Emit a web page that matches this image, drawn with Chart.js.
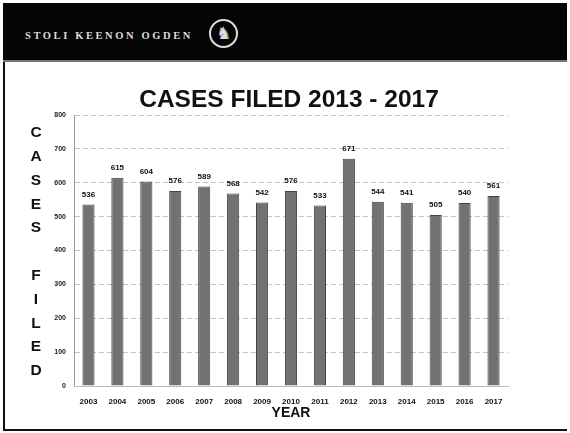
<!DOCTYPE html>
<html>
<head>
<meta charset="utf-8">
<script src="https://cdn.jsdelivr.net/npm/chart.js@4/dist/chart.umd.min.js"></script>
<style>
  html, body { margin: 0; padding: 0; background: #fff; }
  #page { position: relative; width: 570px; height: 433px; overflow: hidden; }
  #frame { position: absolute; left: 3px; top: 3px; width: 562px; height: 426px; border-left: 2px solid #111; border-bottom: 2px solid #111; }
  #header { position: absolute; left: 3px; top: 3px; width: 564px; height: 57px; background: #050505; border-bottom: 2px solid #777; }
  #brand { position: absolute; left: 22px; top: 27px; color: #ddd; font-family: "Liberation Serif", serif; font-size: 10.5px; letter-spacing: 2.6px; font-weight: bold; }
  #logo { position: absolute; left: 206px; top: 16px; width: 25px; height: 25px; border: 2px solid #ddd; border-radius: 50%; color: #ddd; font-family: "DejaVu Sans", sans-serif; font-size: 17px; line-height: 25px; text-align: center; }
  canvas { position: absolute; left: 0; top: 0; }
</style>
</head>
<body>
<div id="page">
  <div id="frame"></div>
  <div id="header"><span id="brand">STOLI KEENON OGDEN</span><span id="logo">♞</span></div>
  <canvas id="chart" width="570" height="433"></canvas>
</div>
<script>
const years = ["2003", "2004", "2005", "2006", "2007", "2008", "2009", "2010", "2011", "2012", "2013", "2014", "2015", "2016", "2017"];
const casesFiled = [536, 615, 604, 576, 589, 568, 542, 576, 533, 671, 544, 541, 505, 540, 561];
const yTitleLetters = ["C", "A", "S", "E", "S", "", "F", "I", "L", "E", "D"];
const chartTitle = "CASES FILED 2013 - 2017";

// title, value labels above bars, stacked vertical axis title
const extras = {
  id: "extras",
  afterDatasetsDraw(chart) {
    const ctx = chart.ctx;
    const meta = chart.getDatasetMeta(0);
    ctx.save();
    ctx.fillStyle = "#111";
    ctx.textAlign = "center";
    ctx.font = "bold 24.5px Arial, 'Liberation Sans', sans-serif";
    ctx.textBaseline = "middle";
    ctx.fillText(chartTitle, 289, 100);
    ctx.font = "bold 8px Arial, 'Liberation Sans', sans-serif";
    ctx.textBaseline = "bottom";
    meta.data.forEach((bar, i) => {
      ctx.fillText(casesFiled[i], bar.x, bar.y - 6);
    });
    ctx.font = "bold 15.5px Arial, 'Liberation Sans', sans-serif";
    ctx.textBaseline = "middle";
    yTitleLetters.forEach((l, i) => {
      ctx.fillText(l, 36, 133 + i * 23.8);
    });
    ctx.restore();
  },
};

const ctx = document.getElementById("chart").getContext("2d");
new Chart(ctx, {
  type: "bar",
  data: {
    labels: years,
    datasets: [
      {
        data: casesFiled,
        backgroundColor: "#727272",
        borderColor: "#444",
        borderWidth: 1,
        barPercentage: 0.42,
        categoryPercentage: 1,
      },
    ],
  },
  options: {
    responsive: false,
    animation: false,
    layout: { padding: { top: 115, left: 0, right: 62, bottom: 11 } },
    plugins: {
      legend: { display: false },
      tooltip: { enabled: false },
    },
    scales: {
      y: {
        min: 0,
        max: 800,
        ticks: {
          stepSize: 100,
          color: "#222",
          font: { family: "Arial, 'Liberation Sans', sans-serif", size: 7, weight: "bold" },
          padding: 8,
        },
        grid: { color: "#c4c4c4", drawTicks: false },
        border: { display: true, color: "#999", dash: [5, 3] },
        afterFit(scale) { scale.width = 74; },
      },
      x: {
        ticks: {
          color: "#111",
          font: { family: "Arial, 'Liberation Sans', sans-serif", size: 8, weight: "bold" },
          padding: 3,
          maxRotation: 0,
        },
        grid: { display: false },
        border: { color: "#bbb" },
        title: {
          display: true,
          text: "YEAR",
          color: "#111",
          font: { family: "Arial, 'Liberation Sans', sans-serif", size: 14, weight: "bold" },
          padding: { top: 0, bottom: 0 },
        },
        afterFit(scale) { scale.height = 36; },
      },
    },
  },
  plugins: [extras],
});
</script>
</body>
</html>
